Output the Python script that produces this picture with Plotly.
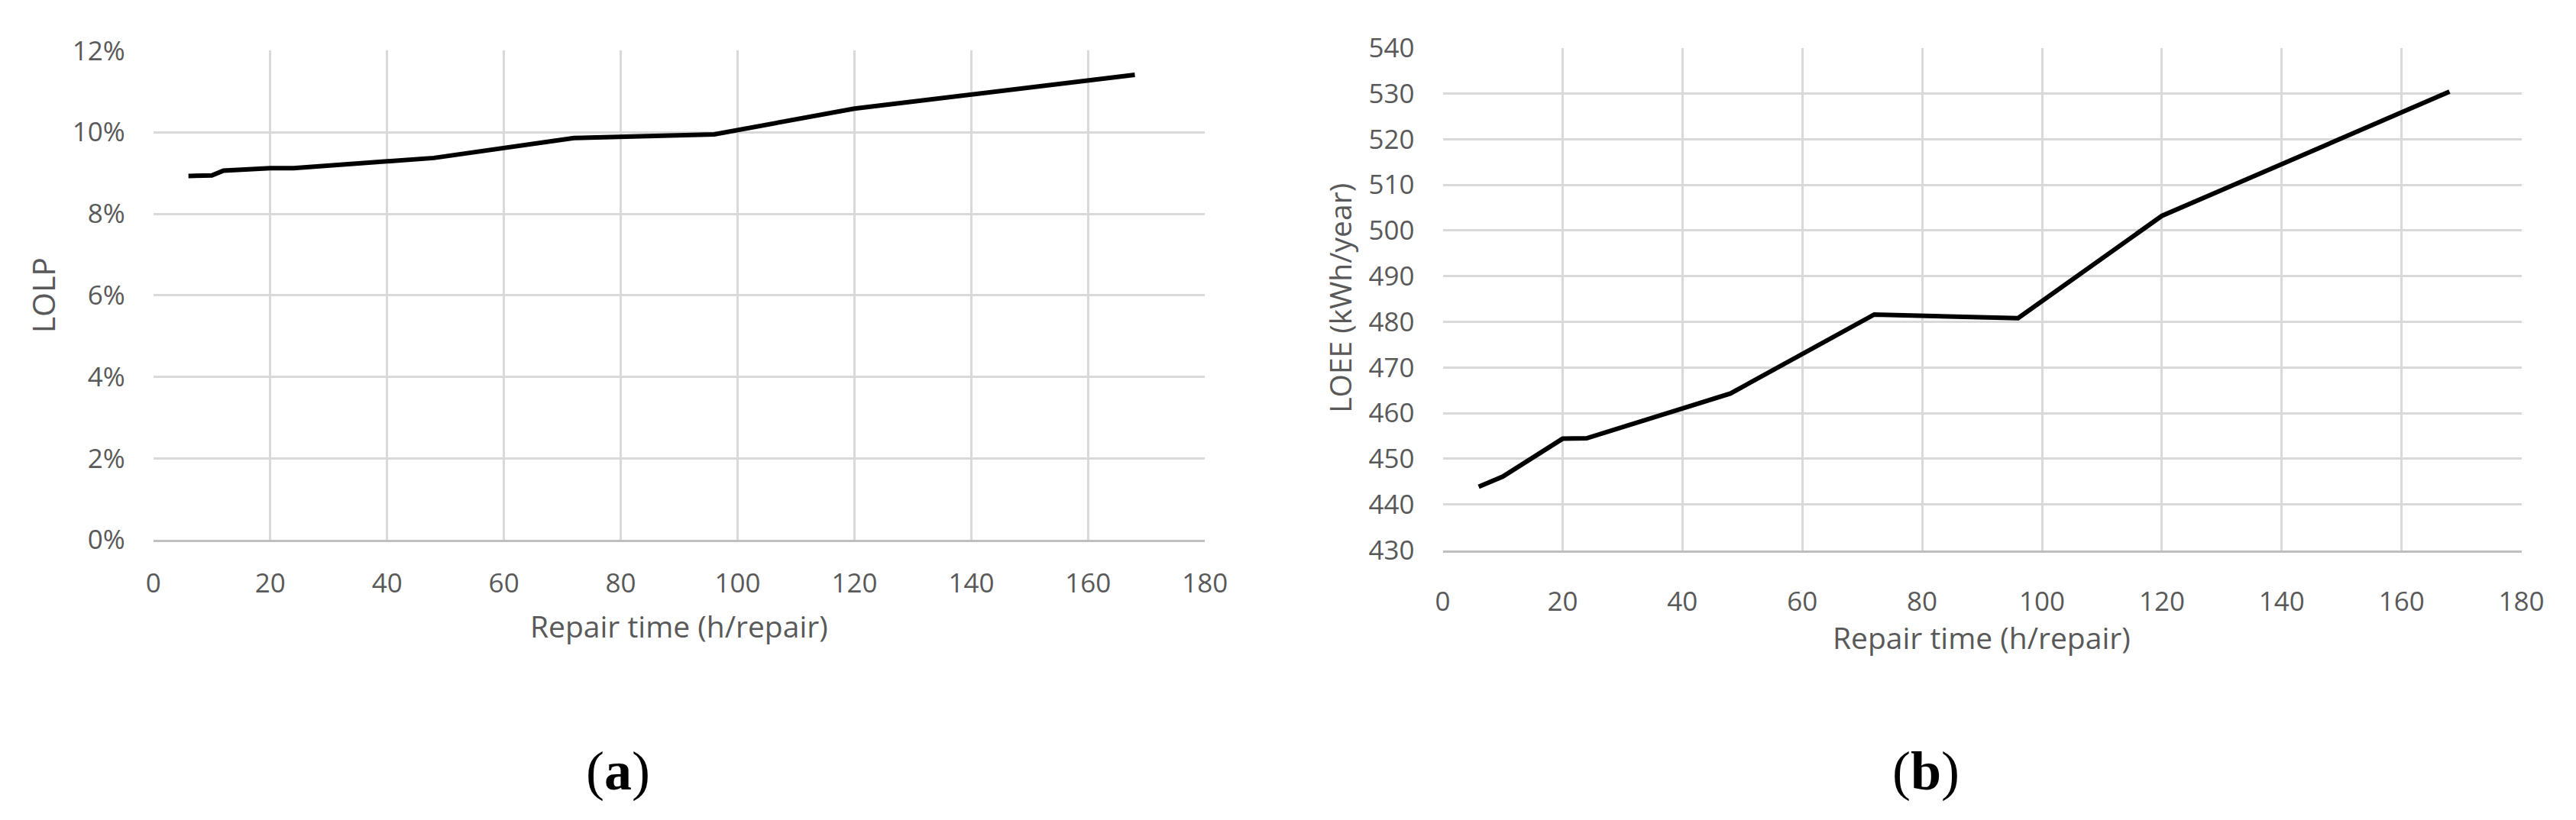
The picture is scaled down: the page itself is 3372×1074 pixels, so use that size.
import plotly.graph_objects as go

# Panel (a): LOLP versus repair time
repair_time_a = [6, 10, 12, 20, 24, 48, 72, 96, 120, 168]
lolp = [0.0893, 0.0894, 0.0906, 0.0912, 0.0912, 0.0937, 0.0986, 0.0995, 0.1058, 0.1141]

# Panel (b): LOEE versus repair time
repair_time_b = [6, 10, 20, 24, 48, 72, 96, 120, 168]
loee = [443.9, 446.1, 454.4, 454.5, 464.3, 481.6, 480.8, 503.2, 530.4]

x_ticks = [0, 20, 40, 60, 80, 100, 120, 140, 160, 180]
x_title = "Repair time (h/repair)"
panel_labels = ["(<b>a</b>)", "(<b>b</b>)"]

W, H = 3372, 1074
grid = '#d9d9d9'
txt = '#595959'
tick_font = dict(family="Open Sans", size=35, color=txt)

fig = go.Figure()
fig.add_trace(go.Scatter(x=repair_time_a, y=lolp, mode='lines', line=dict(color='black', width=6),
                         xaxis='x', yaxis='y', showlegend=False))
fig.add_trace(go.Scatter(x=repair_time_b, y=loee, mode='lines', line=dict(color='black', width=6),
                         xaxis='x2', yaxis='y2', showlegend=False))

xa = dict(range=[0, 180], tickvals=x_ticks, showgrid=True, gridcolor=grid, gridwidth=3,
          zeroline=False, showline=True, linecolor='#bfbfbf', linewidth=3,
          ticks='', tickfont=tick_font, ticklabelstandoff=24)
ya = dict(showgrid=True, gridcolor=grid, gridwidth=3, zeroline=False, showline=False,
          ticks='', tickfont=tick_font, ticklabelstandoff=36)

fig.update_layout(
    width=W, height=H, autosize=False,
    margin=dict(l=0, r=0, t=0, b=0),
    paper_bgcolor='white', plot_bgcolor='white',
    xaxis=dict(xa, domain=[185 / W, 1578 / W], anchor='y'),
    yaxis=dict(ya, domain=[1 - 705 / H, 1 - 35 / H], anchor='x',
               range=[0, 0.12], dtick=0.02, tickformat='.0%'),
    xaxis2=dict(xa, domain=[1893 / W, 3322 / W], anchor='y2', ticklabelstandoff=34),
    yaxis2=dict(ya, domain=[1 - 719 / H, 1 - 31 / H], anchor='x2',
                range=[430, 540], dtick=10),
)

title_font = dict(family="Open Sans", size=39, color=txt)
ann = [
    dict(x=38 / W, y=1 - 370 / H, text="LOLP", textangle=-90, font=dict(title_font, size=41)),
    dict(x=1756 / W, y=1 - 374 / H, text="LOEE (kWh/year)", textangle=-90, font=title_font),
    dict(x=881 / W, y=1 - 823 / H, text=x_title, font=title_font),
    dict(x=2607 / W, y=1 - 838 / H, text=x_title, font=title_font),
]
for a in ann:
    fig.add_annotation(xref='paper', yref='paper', showarrow=False,
                       xanchor='center', yanchor='middle', **a)

for lbl, xc in zip(panel_labels, [800, 2533]):
    fig.add_annotation(x=xc / W, y=1 - 1022 / H, xref='paper', yref='paper', text=lbl,
                       showarrow=False, xanchor='center', yanchor='middle',
                       font=dict(family="Liberation Serif", size=72, color='black'))

fig.write_html("out.html")
